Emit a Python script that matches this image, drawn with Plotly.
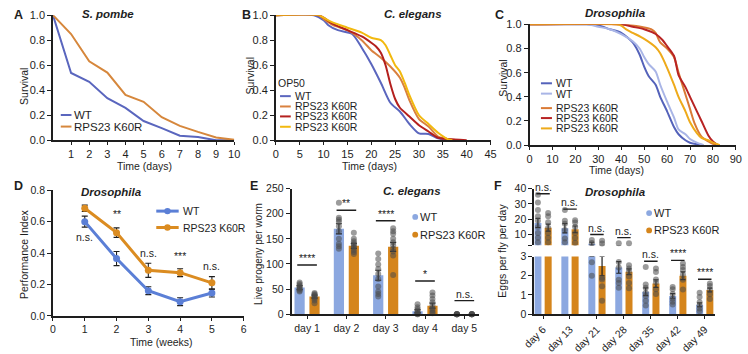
import plotly.graph_objects as go

W, H = 748, 354
FONT = "Liberation Sans, Arial, Helvetica, sans-serif"
INK = "#1e1e1e"


def px(x):
    return x / W


def py(y):
    return 1 - y / H


# ---------------- data ----------------
# A  S. pombe survival
a_days = [0, 1, 2, 3, 4, 5, 6, 7, 8, 9, 10]
a_wt = [1.0, 0.538, 0.467, 0.336, 0.259, 0.154, 0.097, 0.036, 0.026, 0.0, 0.0]
a_k60r = [1.0, 0.849, 0.631, 0.541, 0.362, 0.308, 0.185, 0.115, 0.067, 0.023, 0.005]

# B  C. elegans survival
b_wt_t = [0, 8, 10, 11, 13, 16, 18, 20, 22, 24, 26, 28, 30, 32, 34, 36]
b_wt = [1, 1, 0.96, 0.92, 0.88, 0.85, 0.74, 0.61, 0.46, 0.30, 0.23, 0.13, 0.055, 0.05, 0.015, 0]
b_k1_t = [0, 9, 10, 12, 15, 18, 20, 22, 24, 26, 27, 28, 30, 32, 34, 36, 38]
b_k1 = [1, 1, 0.97, 0.92, 0.88, 0.80, 0.72, 0.66, 0.59, 0.50, 0.42, 0.32, 0.17, 0.11, 0.03, 0.01, 0]
b_k2_t = [0, 9, 10, 12, 15, 18, 20, 21, 22, 23, 24, 25, 26, 28, 30, 32, 34, 36, 40]
b_k2 = [1, 1, 0.98, 0.93, 0.88, 0.83, 0.78, 0.75, 0.70, 0.60, 0.45, 0.33, 0.26, 0.19, 0.12, 0.07, 0.02, 0.01, 0]
b_k3_t = [0, 9, 10, 12, 15, 18, 20, 22, 23, 24, 25, 26, 27, 28, 30, 32, 34, 36, 37]
b_k3 = [1, 1, 0.98, 0.94, 0.90, 0.86, 0.82, 0.80, 0.76, 0.68, 0.60, 0.55, 0.46, 0.36, 0.20, 0.13, 0.06, 0.01, 0]

# C  Drosophila survival
c_wt1_t = [0, 25, 30, 35, 40, 45, 48, 50, 52, 55, 57, 60, 63, 65, 68, 70, 75]
c_wt1 = [1, 1, 0.99, 0.96, 0.93, 0.85, 0.75, 0.65, 0.57, 0.50, 0.40, 0.28, 0.15, 0.09, 0.04, 0.02, 0]
c_wt2_t = [0, 25, 30, 35, 40, 45, 48, 50, 52, 55, 57, 60, 63, 65, 68, 70, 73, 76]
c_wt2 = [1, 1, 0.98, 0.96, 0.92, 0.86, 0.80, 0.73, 0.67, 0.61, 0.50, 0.36, 0.23, 0.13, 0.09, 0.05, 0.02, 0]
c_k1_t = [0, 40, 45, 50, 53, 55, 57, 60, 63, 65, 67, 70, 72, 75, 78, 80, 82]
c_k1 = [1, 1, 0.99, 0.975, 0.96, 0.93, 0.85, 0.80, 0.73, 0.60, 0.48, 0.30, 0.18, 0.07, 0.03, 0.01, 0]
c_k2_t = [0, 40, 45, 50, 55, 58, 60, 63, 65, 68, 70, 73, 75, 78, 80, 82]
c_k2 = [1, 1, 0.98, 0.96, 0.92, 0.87, 0.82, 0.74, 0.58, 0.48, 0.40, 0.28, 0.20, 0.08, 0.03, 0]
c_k3_t = [0, 38, 40, 42, 45, 50, 55, 57, 60, 63, 65, 68, 70, 73, 75, 78, 80, 83]
c_k3 = [1, 1, 0.99, 0.96, 0.93, 0.88, 0.81, 0.76, 0.64, 0.50, 0.40, 0.28, 0.19, 0.10, 0.06, 0.04, 0.02, 0]

# D  Drosophila performance index
d_weeks = [1, 2, 3, 4, 5]
d_wt = [0.60, 0.365, 0.16, 0.09, 0.145]
d_wt_err = [0.035, 0.045, 0.025, 0.025, 0.025]
d_k60r = [0.685, 0.53, 0.29, 0.275, 0.21]
d_k60r_err = [0.02, 0.03, 0.045, 0.025, 0.04]
d_sig = ["n.s.", "**", "n.s.", "***", "n.s."]
d_sig_y = [0.50, 0.65, 0.40, 0.38, 0.32]

# E  C. elegans live progeny
e_days = ["day 1", "day 2", "day 3", "day 4", "day 5"]
e_wt = [53, 170, 77.5, 6, 0]
e_wt_err = [4, 10, 10, 3, 0]
e_k60r = [35, 136, 134, 17, 0]
e_k60r_err = [3, 5, 9, 5, 0]
e_wt_pts = [
    [63, 60, 57, 54, 52, 50, 47, 45],
    [222, 192, 188, 184, 175, 165, 150, 140, 135, 130],
    [121, 110, 99, 90, 80, 70, 55, 45, 40, 35],
    [20, 14, 10, 7, 4, 2, 0, 0],
    [0, 0, 0, 0, 0, 0],
]
e_k60r_pts = [
    [42, 40, 38, 36, 34, 31, 27, 22],
    [162, 150, 145, 141, 138, 135, 132, 128, 124, 120],
    [171, 165, 160, 150, 143, 137, 130, 125, 117, 78],
    [43, 37, 30, 24, 18, 12, 8, 4, 2],
    [0, 0, 0, 0, 0, 0],
]
e_sig = ["****", "**", "****", "*", "n.s."]
e_sig_y = [98, 207, 186, 66, 27]

# F  Drosophila eggs per fly per day (broken axis)
f_days = ["day 6", "day 13", "day 21", "day 28", "day 35", "day 42", "day 49"]
f_wt = [17.6, 14.1, 4.0, 2.43, 1.17, 0.95, 0.49]
f_wt_err = [3, 3, 1.0, 0.3, 0.2, 0.12, 0.1]
f_k60r = [14.5, 13.4, 2.5, 2.21, 1.59, 2.0, 1.26]
f_k60r_err = [2.3, 2.2, 0.5, 0.15, 0.2, 0.2, 0.1]
f_wt_pts = [
    [36, 31, 26, 22, 19, 15, 11, 8, 5],
    [26, 19, 17, 13, 7.5, 5],
    [6.5, 4.5, 2.7, 2.0],
    [4.3, 2.71, 2.43, 1.79, 1.62, 1.37],
    [2.46, 1.54, 1.37, 1.12, 0.95, 0.7, 0.45],
    [1.42, 1.3, 1.05, 0.8, 0.65, 0.5],
    [1.12, 0.9, 0.62, 0.45, 0.3, 0.15],
]
f_k60r_pts = [
    [24, 22, 18, 14.5, 11, 8, 5],
    [19.3, 17.8, 15, 11, 7.8, 4.7],
    [6, 4.2, 1.9, 1.8, 1.45, 0.7],
    [4.3, 2.55, 2.38, 2.21, 1.96, 1.62, 1.35],
    [2.38, 2.2, 1.8, 1.65, 1.3, 1.05],
    [2.63, 2.46, 2.3, 2.05, 1.79, 1.29],
    [1.59, 1.46, 1.29, 1.04, 0.79],
]
f_sig = ["n.s.", "n.s.", "n.s.", "n.s.", "n.s.", "****", "****"]
f_sig_y = [36.6, 26.6, 10, 8, 2.75, 2.8, 1.82]
F_BREAK = 3

# ---------------- colours ----------------
A_BLUE, A_ORANGE = "#5A66BE", "#D6873C"
B_COLS = ["#5B66BE", "#D9813F", "#B4201E", "#F2B90F"]
C_COLS = ["#5462BA", "#A9B5E6", "#DA7A35", "#B82323", "#EEAA1A"]
D_BLUE, D_ORANGE = "#5B7FD6", "#DB8C21"
BAR_BLUE, BAR_ORANGE = "#8CA8E0", "#D5851C"
DOT = "rgba(75,75,75,0.55)"

fig = go.Figure()


def line(x, y, color, xa, ya, shape="linear", width=2):
    fig.add_trace(go.Scatter(x=x, y=y, mode="lines", xaxis=xa, yaxis=ya,
                             line=dict(color=color, width=width, shape=shape, smoothing=0.7),
                             cliponaxis=False, showlegend=False, hoverinfo="skip"))


# A
line(a_days, a_wt, A_BLUE, "x", "y")
line(a_days, a_k60r, A_ORANGE, "x", "y")
# B
for t, s, c in zip([b_wt_t, b_k1_t, b_k2_t, b_k3_t], [b_wt, b_k1, b_k2, b_k3], B_COLS):
    line(t, s, c, "x2", "y2", shape="spline")
# C
for t, s, c in zip([c_wt1_t, c_wt2_t, c_k1_t, c_k2_t, c_k3_t], [c_wt1, c_wt2, c_k1, c_k2, c_k3], C_COLS):
    line(t, s, c, "x3", "y3", shape="spline")

# D
for vals, errs, col in [(d_wt, d_wt_err, D_BLUE), (d_k60r, d_k60r_err, D_ORANGE)]:
    fig.add_trace(go.Scatter(x=d_weeks, y=vals, mode="lines+markers", xaxis="x4", yaxis="y4",
                             line=dict(color=col, width=3), marker=dict(size=7, color=col),
                             error_y=dict(type="data", array=errs, color=INK, thickness=1.1, width=3),
                             cliponaxis=False, showlegend=False, hoverinfo="skip"))

OFF, BW, SIGW = 0.19, 0.26, 0.25

# E
e_x = list(range(1, len(e_days) + 1))
for vals, errs, col, sgn in [(e_wt, e_wt_err, BAR_BLUE, -1), (e_k60r, e_k60r_err, BAR_ORANGE, 1)]:
    fig.add_trace(go.Bar(x=[v + sgn * OFF for v in e_x], y=vals, width=BW, xaxis="x5", yaxis="y5",
                         marker=dict(color=col, line=dict(width=0)),
                         error_y=dict(type="data", array=errs, color=INK, thickness=1.2, width=3),
                         showlegend=False, hoverinfo="skip"))
for pts_list, sgn in [(e_wt_pts, -1), (e_k60r_pts, 1)]:
    xs, ys = [], []
    for i, pts in zip(e_x, pts_list):
        xs += [i + sgn * OFF] * len(pts)
        ys += pts
    fig.add_trace(go.Scatter(x=xs, y=ys, mode="markers", xaxis="x5", yaxis="y5",
                             marker=dict(size=6, color=DOT), cliponaxis=False,
                             showlegend=False, hoverinfo="skip"))
for i, h in zip(e_x, e_sig_y):
    fig.add_trace(go.Scatter(x=[i - SIGW, i + SIGW], y=[h, h], mode="lines", xaxis="x5", yaxis="y5",
                             line=dict(color=INK, width=1.4), showlegend=False, hoverinfo="skip"))

# F (lower x6/y6, upper x7/y7)
f_x = list(range(1, len(f_days) + 1))
for xa, ya in [("x6", "y6"), ("x7", "y7")]:
    for vals, errs, col, sgn in [(f_wt, f_wt_err, BAR_BLUE, -1), (f_k60r, f_k60r_err, BAR_ORANGE, 1)]:
        fig.add_trace(go.Bar(x=[v + sgn * OFF for v in f_x], y=vals, width=BW, xaxis=xa, yaxis=ya,
                             marker=dict(color=col, line=dict(width=0)),
                             error_y=dict(type="data", array=errs, color=INK, thickness=1.2, width=2.5),
                             showlegend=False, hoverinfo="skip"))
for pts_list, sgn in [(f_wt_pts, -1), (f_k60r_pts, 1)]:
    lo_x, lo_y, hi_x, hi_y = [], [], [], []
    for i, pts in zip(f_x, pts_list):
        for v in pts:
            if v > F_BREAK:
                hi_x.append(i + sgn * OFF)
                hi_y.append(v)
            else:
                lo_x.append(i + sgn * OFF)
                lo_y.append(v)
    for xs, ys, xa, ya in [(lo_x, lo_y, "x6", "y6"), (hi_x, hi_y, "x7", "y7")]:
        fig.add_trace(go.Scatter(x=xs, y=ys, mode="markers", xaxis=xa, yaxis=ya,
                                 marker=dict(size=6, color=DOT), cliponaxis=False,
                                 showlegend=False, hoverinfo="skip"))
for i, h in zip(f_x, f_sig_y):
    xa, ya = ("x7", "y7") if h > F_BREAK else ("x6", "y6")
    fig.add_trace(go.Scatter(x=[i - SIGW, i + SIGW], y=[h, h], mode="lines", xaxis=xa, yaxis=ya,
                             line=dict(color=INK, width=1.4), cliponaxis=False,
                             showlegend=False, hoverinfo="skip"))

# ---------------- axes ----------------


def tf(size):
    return dict(family=FONT, size=size, color=INK)


def xax(x0, x1, anchor, **kw):
    d = dict(domain=[px(x0), px(x1)], anchor=anchor, showline=True, linecolor=INK, linewidth=1.5,
             ticks="outside", ticklen=3, tickwidth=1.3, tickcolor=INK, showgrid=False,
             zeroline=False, tickfont=tf(11), fixedrange=True)
    d.update(kw)
    return d


def yax(y0, y1, anchor, **kw):
    d = dict(domain=[py(y1), py(y0)], anchor=anchor, showline=True, linecolor=INK, linewidth=1.5,
             ticks="outside", ticklen=4, tickwidth=1.3, tickcolor=INK, showgrid=False,
             zeroline=False, tickfont=tf(11), fixedrange=True)
    d.update(kw)
    return d


surv_ticks = [0, 0.2, 0.4, 0.6, 0.8, 1.0]
layout_axes = dict(
    xaxis=xax(41, 227, "y", range=[0, 10], tickvals=list(range(1, 11))),
    yaxis=yax(9.5, 139, "x", range=[0, 1], tickvals=surv_ticks, tickformat=".1f"),
    xaxis2=xax(269.7, 490, "y2", range=[0, 45], tickvals=list(range(0, 46, 5))),
    yaxis2=yax(9.5, 139, "x2", range=[0, 1], tickvals=surv_ticks, tickformat=".1f"),
    xaxis3=xax(530, 741.7, "y3", range=[0, 90], tickvals=list(range(0, 91, 10))),
    yaxis3=yax(19, 144, "x3", range=[0, 1], tickvals=surv_ticks, tickformat=".1f"),
    xaxis4=xax(41, 236.7, "y4", range=[0, 6], tickvals=list(range(0, 7)), tickfont=tf(10.5)),
    yaxis4=yax(190.7, 320.7, "x4", range=[0, 0.8], tickvals=[0, 0.2, 0.4, 0.6, 0.8], tickformat=".1f",
               tickfont=tf(10.5)),
    xaxis5=xax(286, 478, "y5", range=[0.61, 5.37], tickvals=e_x, ticktext=e_days,
               tickfont=tf(10.5), linewidth=2),
    yaxis5=yax(189, 319, "x5", range=[0, 250], tickvals=[0, 50, 100, 150, 200, 250], linewidth=2,
               tickfont=tf(10.5)),
    xaxis6=xax(535, 720, "y6", range=[0.68, 7.37], tickvals=f_x, ticktext=f_days, tickangle=-45,
               tickfont=tf(10.5), linewidth=2),
    yaxis6=yax(259.3, 319, "x6", range=[0, 3], tickvals=[0, 1, 2, 3], linewidth=2, tickfont=tf(10.5)),
    xaxis7=dict(domain=[px(535), px(720)], anchor="y7", range=[0.68, 7.37], visible=False,
                fixedrange=True),
    yaxis7=yax(189, 247.7, "x7", range=[3, 40], tickvals=[3, 10, 20, 30, 40],
               ticktext=["", "10", "20", "30", "40"], linewidth=2, tickfont=tf(10.5)),
)

# ---------------- annotations ----------------
ann = []


def text(x, y, s, size=10.5, angle=0, xanchor="center", yanchor="middle", **kw):
    ann.append(dict(x=px(x), y=py(y), xref="paper", yref="paper", text=s, showarrow=False,
                    textangle=angle, xanchor=xanchor, yanchor=yanchor, borderpad=0,
                    font=dict(family=FONT, size=size, color=INK), **kw))


# panel letters
for s, x, y in [("A", 6, 9), ("B", 240, 9), ("C", 499, 9), ("D", 6, 186), ("E", 247, 186), ("F", 498, 186)]:
    text(x, y, "<b>%s</b>" % s, size=12.5)
# titles
TS = 11.5
text(97.5, 8, "<b><i>S. pombe</i></b>", size=TS)
text(410, 8, "<b><i>C. elegans</i></b>", size=TS)
text(618, 7, "<b><i>Drosophila</i></b>", size=TS)
text(101, 193, "<b><i>Drosophila</i></b>", size=TS)
text(409, 192, "<b><i>C. elegans</i></b>", size=TS)
text(618, 193, "<b><i>Drosophila</i></b>", size=TS)
# axis titles
text(11, 83, "Survival", angle=-90)
text(135, 158.5, "Time (days)", yanchor="top")
text(243, 72, "Survival", angle=-90)
text(366, 158, "Time (days)", yanchor="top")
text(503, 75, "Survival", angle=-90)
text(619, 163, "Time (days)", yanchor="top")
text(12, 257, "Performance Index", angle=-90)
text(152, 348, "Time (weeks)")
text(252, 257, "Live progeny per worm", angle=-90, size=10)
text(502, 253, "Eggs per fly per day", angle=-90, size=10.5)

# significance labels
SS = 10.5
for i, s, h in zip(d_weeks, d_sig, d_sig_y):
    ann.append(dict(x=i, y=h, xref="x4", yref="y4", text=s, showarrow=False, yanchor="middle",
                    borderpad=0, font=dict(family=FONT, size=SS, color=INK)))
for i, s, h in zip(e_x, e_sig, e_sig_y):
    ann.append(dict(x=i, y=h, xref="x5", yref="y5", text=s, showarrow=False, yanchor="bottom",
                    borderpad=0, yshift=0, font=dict(family=FONT, size=SS, color=INK)))
for i, s, h in zip(f_x, f_sig, f_sig_y):
    ya = "y7" if h > F_BREAK else "y6"
    xa = "x7" if h > F_BREAK else "x6"
    ann.append(dict(x=i, y=h, xref=xa, yref=ya, text=s, showarrow=False, yanchor="bottom",
                    borderpad=0, yshift=0, font=dict(family=FONT, size=SS, color=INK)))

# ---------------- legends (drawn) ----------------
shapes = []


def leg_line(x0, x1, y, color, width=2):
    shapes.append(dict(type="line", xref="paper", yref="paper", x0=px(x0), x1=px(x1),
                       y0=py(y), y1=py(y), line=dict(color=color, width=width)))


def leg_dot(x, y, color, r=3):
    shapes.append(dict(type="circle", xref="paper", yref="paper", x0=px(x - r), x1=px(x + r),
                       y0=py(y + r), y1=py(y - r), fillcolor=color, line=dict(width=0)))


for lab, col, y in [("WT", A_BLUE, 112.8), ("RPS23 K60R", A_ORANGE, 124.8)]:
    leg_line(49, 60, y, col)
    text(62, y, lab, size=11.5, xanchor="left")

text(271, 80, "OP50", size=10.5, xanchor="left")
for lab, col, y in zip(["WT", "RPS23 K60R", "RPS23 K60R", "RPS23 K60R"], B_COLS, [93.3, 104, 114.3, 125]):
    leg_line(274, 285, y, col)
    text(288, y, lab, size=10.5, xanchor="left")

for lab, col, y in zip(["WT", "WT", "RPS23 K60R", "RPS23 K60R", "RPS23 K60R"], C_COLS,
                       [80, 90.7, 105.7, 116, 126.7]):
    leg_line(541.7, 553, y, col)
    text(556, y, lab, size=10.5, xanchor="left")

for lab, col, y in [("WT", D_BLUE, 212.3), ("RPS23 K60R", D_ORANGE, 229.3)]:
    leg_line(147, 170, y, col, width=3)
    leg_dot(158.5, y, col, r=3.3)
    text(173.5, y, lab, size=10.5, xanchor="left")

for lab, col, y in [("WT", BAR_BLUE, 218.3), ("RPS23 K60R", BAR_ORANGE, 236.7)]:
    leg_dot(412.7, y, col, r=3)
    text(416.5, y, lab, size=11, xanchor="left")

for lab, col, y in [("WT", BAR_BLUE, 214.3), ("RPS23 K60R", BAR_ORANGE, 232.3)]:
    leg_dot(652.7, y, col, r=3)
    text(656.5, y, lab, size=11, xanchor="left")

fig.update_layout(
    width=W, height=H, autosize=False,
    margin=dict(l=0, r=0, t=0, b=0, pad=0),
    paper_bgcolor="white", plot_bgcolor="white",
    font=dict(family=FONT, size=11, color=INK),
    showlegend=False, barmode="overlay",
    annotations=ann, shapes=shapes,
    **layout_axes,
)

fig.write_html("out.html", config={"displayModeBar": False},
               post_script="document.body.style.margin='0';document.body.style.overflow='hidden';")
